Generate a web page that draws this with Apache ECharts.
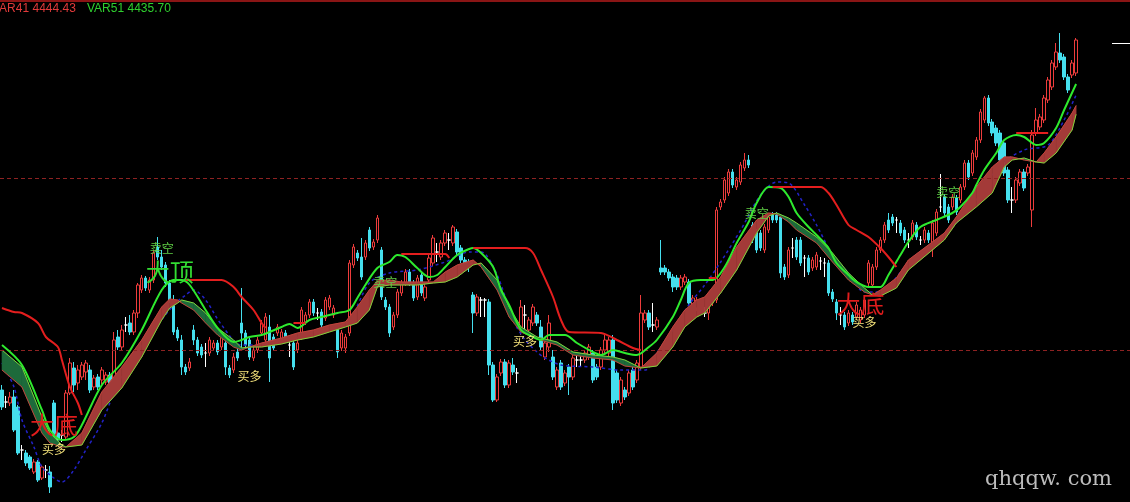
<!DOCTYPE html>
<html><head><meta charset="utf-8">
<script src="https://cdn.jsdelivr.net/npm/echarts@6/dist/echarts.min.js"></script>
<style>html,body{margin:0;padding:0;background:#000;overflow:hidden}#c{width:1130px;height:502px}</style>
</head><body><div id="c"></div>
<script>
// ---- candles (270 bars) ----
const opens = [
4160,4148,4147,4153,4143,4100,4097,4093,4078,4088,
4072,4080,4078,4147,4117,4115,4113,4157,4182,4167,
4173,4178,4180,4163,4173,4170,4168,4175,4168,4213,
4203,4225,4227,4218,4237,4260,4272,4260,4270,4303,
4293,4285,4267,4250,4220,4210,4183,4182,4220,4210,
4203,4197,4197,4202,4207,4203,4207,4182,4180,4198,
4227,4217,4210,4192,4200,4217,4210,4223,4213,4217,
4210,4217,4205,4207,4200,4213,4228,4235,4248,4237,
4238,4232,4243,4235,4223,4202,4202,4217,4285,4297,
4293,4293,4320,4303,4310,4300,4250,4243,4223,4235,
4257,4267,4278,4267,4253,4275,4252,4270,4287,4298,
4293,4307,4310,4307,4318,4302,4290,4288,4255,4237,
4250,4250,4248,4185,4150,4177,4188,4165,4185,4177,
4220,4235,4220,4227,4235,4223,4193,4203,4193,4163,
4187,4167,4183,4173,4190,4190,4190,4193,4197,4183,
4183,4200,4197,4210,4177,4147,4160,4157,4180,4170,
4183,4230,4237,4225,4223,4282,4282,4278,4273,4272,
4263,4268,4268,4243,4242,4245,4237,4237,4247,4250,
4343,4350,4357,4378,4363,4368,4382,4390,4325,4318,
4317,4300,4320,4335,4335,4333,4283,4275,4302,4310,
4310,4292,4292,4282,4283,4289,4287,4287,4258,4248,
4235,4235,4227,4235,4233,4230,4235,4267,4265,4283,
4300,4310,4330,4333,4330,4327,4320,4310,4313,4325,
4310,4310,4317,4303,4317,4343,4353,4343,4343,4352,
4350,4363,4387,4377,4393,4410,4430,4452,4428,4422,
4417,4407,4380,4350,4350,4367,4378,4377,4340,4417,
4423,4430,4450,4463,4483,4497,4493,4473,4475,4477];
const closes = [
4143,4148,4153,4120,4097,4100,4087,4082,4088,4070,
4083,4080,4063,4113,4110,4115,4157,4187,4165,4180,
4185,4187,4160,4172,4163,4180,4175,4165,4210,4203,
4220,4225,4218,4237,4265,4272,4262,4270,4297,4293,
4283,4267,4250,4218,4212,4183,4178,4188,4210,4197,
4195,4197,4210,4207,4198,4215,4183,4175,4193,4192,
4217,4205,4193,4200,4210,4227,4233,4192,4202,4223,
4218,4210,4205,4183,4207,4240,4235,4248,4237,4237,
4225,4250,4252,4242,4198,4217,4213,4287,4303,4292,
4273,4307,4302,4308,4332,4253,4243,4217,4235,4258,
4267,4278,4267,4252,4272,4257,4263,4292,4312,4298,
4307,4317,4310,4323,4298,4290,4287,4285,4237,4253,
4250,4250,4185,4150,4173,4188,4165,4187,4178,4177,
4243,4235,4230,4243,4227,4203,4207,4227,4173,4180,
4163,4177,4173,4192,4190,4190,4197,4203,4170,4173,
4200,4210,4210,4147,4150,4170,4153,4177,4163,4187,
4237,4237,4223,4225,4230,4278,4278,4272,4263,4263,
4272,4273,4247,4252,4250,4240,4237,4250,4255,4340,
4348,4370,4378,4365,4370,4385,4390,4385,4310,4300,
4302,4323,4333,4330,4330,4277,4273,4300,4302,4293,
4287,4292,4278,4290,4295,4289,4287,4257,4251,4237,
4235,4223,4237,4228,4245,4240,4250,4287,4283,4300,
4310,4325,4320,4327,4330,4317,4310,4310,4327,4313,
4310,4320,4310,4327,4338,4343,4337,4330,4353,4338,
4363,4387,4373,4397,4410,4438,4452,4427,4417,4407,
4390,4377,4350,4350,4370,4378,4362,4383,4415,4430,
4433,4452,4470,4487,4498,4490,4473,4460,4487,4510];
const lows = [
4140,4142,4144,4118,4095,4090,4084,4080,4076,4068,
4070,4072,4057,4110,4108,4108,4110,4155,4158,4160,
4170,4170,4157,4160,4160,4166,4165,4162,4165,4200,
4200,4218,4215,4215,4232,4257,4259,4257,4267,4290,
4280,4263,4247,4215,4209,4175,4175,4179,4205,4194,
4192,4183,4194,4199,4195,4200,4175,4172,4177,4189,
4200,4202,4190,4189,4197,4214,4207,4168,4199,4214,
4207,4207,4193,4180,4197,4210,4225,4232,4234,4230,
4222,4229,4240,4232,4192,4199,4197,4214,4282,4289,
4270,4290,4299,4300,4307,4250,4240,4213,4220,4232,
4254,4264,4264,4249,4250,4254,4249,4267,4284,4288,
4290,4304,4300,4304,4295,4287,4284,4278,4217,4234,
4233,4233,4175,4148,4148,4174,4162,4162,4175,4167,
4215,4220,4217,4224,4224,4200,4190,4198,4170,4160,
4160,4164,4155,4170,4183,4183,4187,4190,4167,4170,
4180,4197,4194,4140,4147,4144,4150,4154,4160,4167,
4180,4227,4220,4218,4220,4275,4275,4269,4258,4260,
4260,4265,4244,4240,4239,4237,4233,4230,4244,4247,
4340,4347,4354,4362,4360,4365,4379,4382,4307,4297,
4299,4297,4317,4327,4327,4272,4270,4272,4292,4290,
4284,4273,4275,4279,4280,4280,4273,4254,4248,4230,
4225,4220,4224,4225,4230,4227,4232,4264,4262,4280,
4297,4307,4317,4324,4317,4314,4307,4302,4310,4310,
4305,4307,4307,4293,4314,4338,4334,4327,4340,4335,
4347,4360,4370,4374,4390,4407,4427,4424,4414,4404,
4387,4374,4347,4337,4347,4364,4359,4374,4323,4414,
4420,4427,4447,4460,4480,4487,4470,4457,4472,4474];
const highs = [
4165,4154,4158,4160,4145,4105,4100,4095,4091,4090,
4085,4085,4084,4150,4120,4120,4160,4192,4188,4185,
4188,4190,4185,4175,4176,4183,4178,4178,4218,4220,
4225,4233,4235,4240,4267,4275,4274,4273,4300,4313,
4300,4288,4270,4255,4223,4215,4186,4192,4225,4213,
4206,4207,4213,4210,4210,4218,4210,4185,4197,4201,
4262,4220,4213,4203,4213,4230,4237,4235,4216,4226,
4221,4220,4210,4210,4210,4243,4238,4251,4251,4242,
4241,4253,4255,4245,4226,4220,4216,4290,4306,4300,
4312,4310,4323,4311,4335,4303,4253,4246,4238,4261,
4270,4281,4281,4270,4275,4278,4266,4295,4315,4307,
4310,4320,4317,4325,4321,4305,4293,4291,4258,4256,
4253,4252,4251,4188,4176,4191,4191,4190,4192,4182,
4250,4245,4233,4246,4238,4230,4210,4235,4200,4183,
4190,4180,4186,4195,4197,4197,4200,4206,4200,4186,
4203,4215,4213,4215,4180,4173,4163,4180,4183,4190,
4255,4240,4240,4247,4233,4310,4285,4281,4276,4275,
4275,4276,4271,4255,4253,4248,4243,4253,4258,4343,
4351,4373,4381,4381,4373,4388,4397,4395,4328,4321,
4320,4326,4336,4338,4338,4336,4286,4303,4312,4313,
4313,4295,4295,4293,4298,4293,4292,4290,4261,4251,
4243,4238,4240,4238,4248,4243,4253,4290,4286,4303,
4313,4328,4337,4336,4333,4330,4323,4317,4330,4328,
4314,4323,4320,4330,4341,4376,4356,4346,4356,4355,
4366,4390,4390,4400,4413,4441,4454,4455,4431,4425,
4420,4410,4383,4363,4373,4381,4381,4386,4420,4442,
4436,4455,4473,4490,4507,4517,4496,4476,4490,4512];

// ---- band lines VAR41 (A) / VAR51 (B) ----
const bandIdx = [0,5,10,12,15,16,20,25,30,35,40,42,44,45,48,51,54,58,60,62,65,70,74,78,82,86,89,92,94,97,100,104,108,111,114,118,120,124,127,130,134,139,143,148,153,156,160,164,168,171,174,176,180,184,189,192,194,197,199,204,208,212,216,218,220,224,227,236,239,244,248,251,253,256,259,261,264,268,269];
const bandA = [4180,4163,4117,4107,4103,4103,4117,4158,4183,4210,4243,4251,4250,4247,4240,4227,4215,4203,4200,4203,4207,4212,4217,4220,4225,4228,4243,4260,4269,4270,4268,4268,4268,4278,4285,4290,4283,4260,4233,4218,4211,4205,4195,4192,4190,4184,4182,4197,4223,4240,4250,4253,4273,4303,4330,4337,4336,4328,4320,4307,4288,4270,4258,4255,4260,4272,4290,4317,4333,4363,4383,4393,4393,4390,4388,4397,4413,4437,4444.43];
const bandB = [4200,4183,4133,4117,4105,4103,4105,4140,4162,4193,4230,4242,4247,4250,4247,4237,4222,4210,4202,4203,4203,4206,4210,4213,4218,4223,4227,4240,4263,4265,4265,4265,4267,4268,4273,4285,4287,4270,4243,4223,4213,4208,4198,4195,4193,4190,4182,4184,4203,4223,4233,4237,4257,4280,4317,4334,4337,4332,4327,4313,4297,4277,4262,4255,4254,4262,4280,4310,4327,4343,4357,4383,4390,4392,4388,4387,4397,4420,4435.70];

// ---- fast green line ----
const fastIdx = [0,5,10,12,15,18,20,25,30,35,40,43,45,47,51,54,58,60,62,65,67,70,72,74,77,80,82,84,87,89,91,94,97,99,101,104,107,109,111,114,117,118,120,123,125,127,130,133,135,137,141,144,148,150,153,156,159,162,164,168,170,172,175,178,181,184,187,189,192,195,197,199,202,204,207,209,212,214,217,220,222,225,227,230,234,238,240,243,244,246,249,251,254,256,259,261,264,266,269];
const fastVal = [4205,4185,4140,4120,4110,4113,4125,4165,4187,4220,4260,4270,4270,4265,4240,4222,4208,4210,4213,4215,4218,4223,4226,4222,4230,4233,4235,4237,4240,4252,4265,4282,4288,4295,4293,4282,4273,4275,4283,4295,4301,4302,4297,4283,4260,4245,4220,4213,4210,4215,4215,4207,4198,4195,4200,4197,4195,4203,4210,4233,4250,4267,4270,4270,4283,4307,4328,4347,4363,4362,4353,4337,4323,4315,4302,4287,4275,4268,4263,4263,4275,4295,4308,4323,4330,4337,4343,4357,4365,4380,4397,4410,4415,4413,4405,4407,4422,4440,4466];

// ---- blue dotted line ----
const dotIdx = [0,3,5,8,10,13,15,18,21,25,28,30,33,38,43,46,48,51,55,60,65,70,78,82,87,92,97,104,111,117,120,124,128,131,134,136,140,148,155,161,164,168,172,176,180,185,190,194,197,201,204,208,212,216,220,223,228,236,244,250,256,262,266,269];
const dotVal = [4187,4163,4130,4103,4083,4072,4068,4080,4100,4127,4157,4173,4193,4220,4245,4255,4260,4250,4225,4205,4205,4210,4215,4220,4230,4267,4277,4280,4288,4298,4298,4275,4230,4210,4198,4192,4185,4183,4180,4180,4197,4220,4245,4265,4288,4320,4355,4368,4367,4345,4325,4295,4277,4258,4258,4268,4292,4315,4350,4385,4400,4405,4430,4455];

// ---- red stop line (shown in pieces) ----
const redLines = [
  [[0,4242],[3,4238],[5,4237],[9,4227],[11,4213],[14,4203],[15,4190],[17,4163],[19,4147],[20,4135]],
  [[46,4270],[55,4270],[58,4263],[60,4253],[63,4240],[65,4227],[66,4222]],
  [[73,4227],[76,4227]],
  [[100,4296],[111,4296],[112,4292]],
  [[118,4302],[131,4302],[133,4297],[135,4280],[138,4253],[140,4230],[142,4218],[150,4217],[154,4210],[158,4202],[160,4200]],
  [[177,4272],[179,4272]],
  [[193,4363],[205,4363],[207,4357],[209,4345],[212,4325],[214,4320],[217,4313],[220,4302],[222,4293],[224,4283]],
  [[254,4417],[262,4417]]
];

// ---- signal labels ----
const sellIdx = [40,96,189,237], sellPrice = [4302,4268,4337,4358];          // 卖空
const buyIdx = [13,62,131,216], buyPrice = [4101,4174,4209,4228];            // 买多
const topIdx = [42], topPrice = [4278];                                       // 大顶
const bottomIdx = [13,215], bottomPrice = [4125,4246];                        // 大底
const levelLines = [4372, 4200];

const categories = Array.from({length: 283}, (_, k) => String(k + 1));
const pairs = (idx, vals) => idx.map((x, k) => [x, vals[k]]);

function bandRender(params, api) {
  const k = params.dataIndex;
  if (k >= bandIdx.length - 1) return null;
  const a1 = api.coord([bandIdx[k], bandA[k]]), b1 = api.coord([bandIdx[k], bandB[k]]);
  const a2 = api.coord([bandIdx[k + 1], bandA[k + 1]]), b2 = api.coord([bandIdx[k + 1], bandB[k + 1]]);
  const up = (bandA[k] + bandA[k + 1]) >= (bandB[k] + bandB[k + 1]);
  const col = up ? '#a33a38' : '#1d6a3b';
  return {type: 'polygon', shape: {points: [a1, a2, b2, b1]}, style: {fill: col, stroke: col, lineWidth: 0.6}};
}
function labelSeries(idx, vals, text, color, size) {
  return {
    type: 'custom', z: 8, silent: true, encode: {x: 0, y: 1},
    data: pairs(idx, vals),
    renderItem: (p, api) => {
      const pt = api.coord([api.value(0), api.value(1)]);
      return {type: 'text', x: pt[0], y: pt[1], style: {text: text, fill: color,
        font: size + 'px "Noto Sans CJK SC"', align: 'center', verticalAlign: 'middle'}};
    }
  };
}

const series = [
  {type: 'candlestick', z: 1, barWidth: 3,
   data: opens.map((o, k) => [o, closes[k], lows[k], highs[k]]),
   itemStyle: {color: '#000000', color0: '#45dfee', borderColor: '#ee3c3c', borderColor0: '#45dfee',
               borderColorDoji: '#ffffff', borderWidth: 1},
   markLine: {silent: true, symbol: 'none', label: {show: false},
              lineStyle: {color: '#8e2222', type: [4, 3], width: 1},
              data: levelLines.map(v => ({yAxis: v}))}
  },
  {type: 'line', z: 2, data: pairs(dotIdx, dotVal), symbol: 'none', smooth: 0.3, silent: true,
   lineStyle: {color: '#2222c8', width: 1.5, type: [3, 3]}},
  {type: 'custom', z: 3, silent: true, renderItem: bandRender, encode: {x: 0, y: [1, 2]},
   data: bandIdx.map((x, k) => [x, bandA[k], bandB[k]])},
  {type: 'line', z: 4, data: pairs(bandIdx, bandA), symbol: 'none', silent: true,
   lineStyle: {color: '#c2433c', width: 1}},
  {type: 'line', z: 4, data: pairs(bandIdx, bandB), symbol: 'none', silent: true,
   lineStyle: {color: '#7fd43c', width: 1}},
  {type: 'line', z: 5, data: pairs(fastIdx, fastVal), symbol: 'none', smooth: 0.3, silent: true,
   lineStyle: {color: '#2eea2e', width: 2}}
];
redLines.forEach(seg => series.push({type: 'line', z: 6, data: seg, symbol: 'none', smooth: 0.3, silent: true,
  lineStyle: {color: '#e41e1e', width: 2}}));
series.push(labelSeries(buyIdx, buyPrice, '买多', '#f4e27a', 12));
series.push(labelSeries(sellIdx, sellPrice, '卖空', '#5fcf45', 12));
series.push(labelSeries(topIdx, topPrice, '大顶', '#33dd33', 24));
series.push(labelSeries(bottomIdx, bottomPrice, '大底', '#e01c1c', 24));

const chart = echarts.init(document.getElementById('c'));
chart.setOption({
  backgroundColor: '#000000',
  animation: false,
  grid: {left: 0, top: 0, width: 1132, height: 502},
  xAxis: {type: 'category', data: categories, show: false, boundaryGap: true},
  yAxis: {type: 'value', min: 4048, max: 4550, show: false},
  series: series,
  graphic: [
    {type: 'rect', left: 0, top: 0, z: 10, shape: {width: 1130, height: 2}, style: {fill: '#8a1515'}},
    {type: 'text', x: -8, y: 8.5, z: 10, style: {text: 'VAR41 ' + bandA[bandA.length - 1].toFixed(2),
      fill: '#e23a3a', font: '12px "Liberation Sans"', verticalAlign: 'middle'}},
    {type: 'text', x: 87, y: 8.5, z: 10, style: {text: 'VAR51 ' + bandB[bandB.length - 1].toFixed(2),
      fill: '#2fd02f', font: '12px "Liberation Sans"', verticalAlign: 'middle'}},
    {type: 'line', z: 10, shape: {x1: 1112, y1: 43.5, x2: 1130, y2: 43.5}, style: {stroke: '#ffffff', lineWidth: 1}},
    {type: 'text', x: 985, y: 480, z: 10, style: {text: 'qhqqw. com', fill: '#bcbcbc',
      font: '21px "DejaVu Serif"', verticalAlign: 'middle'}}
  ]
});
</script>
</body></html>
